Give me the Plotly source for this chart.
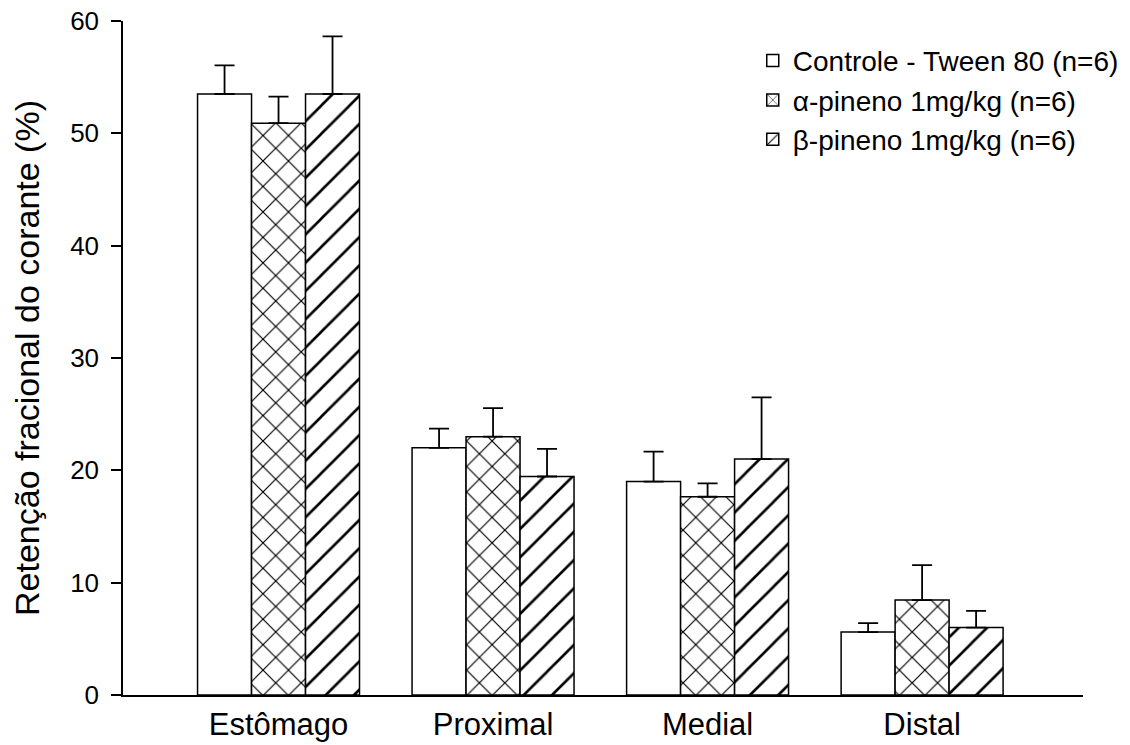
import plotly.graph_objects as go

categories = ["Estômago", "Proximal", "Medial", "Distal"]
series_names = ["Controle - Tween 80 (n=6)", "α-pineno 1mg/kg (n=6)", "β-pineno 1mg/kg (n=6)"]
controle = [53.5, 22.0, 19.0, 5.6]
controle_err = [2.55, 1.72, 2.67, 0.8]
alfa = [50.9, 23.0, 17.65, 8.45]
alfa_err = [2.37, 2.53, 1.19, 3.12]
beta = [53.5, 19.45, 21.0, 6.0]
beta_err = [5.13, 2.46, 5.5, 1.49]
y_ticks = [0, 10, 20, 30, 40, 50, 60]

FONT = "Liberation Sans, Arial, sans-serif"
patterns = ["", "x", "/"]
pattern_sizes = [18, 18, 20]
values = [controle, alfa, beta]
errors = [controle_err, alfa_err, beta_err]

fig = go.Figure()
for name, vals, errs, shp, sz in zip(series_names, values, errors, patterns, pattern_sizes):
    fig.add_trace(go.Bar(
        name=name,
        x=categories,
        y=vals,
        marker=dict(
            color="white",
            line=dict(color="black", width=1.5),
            pattern=dict(shape=shp, fgcolor="black", bgcolor="white",
                         size=sz, solidity=0.13, fillmode="replace"),
        ),
        error_y=dict(type="data", symmetric=False, array=errs,
                     arrayminus=[0] * len(errs), color="black",
                     thickness=1.8, width=10),
    ))

fig.update_layout(
    width=1130, height=745,
    margin=dict(l=123, r=47, t=21, b=50, autoexpand=False),
    paper_bgcolor="white", plot_bgcolor="white",
    barmode="group", bargap=0.245, bargroupgap=0,
    font=dict(family=FONT, color="black"),
    showlegend=True,
    legend=dict(
        x=0.656, y=0.978, xanchor="left", yanchor="top",
        font=dict(size=28, family=FONT, color="black"),
        bgcolor="rgba(0,0,0,0)", borderwidth=0,
        tracegroupgap=0,
    ),
    xaxis=dict(
        type="category",
        range=[-0.725, 3.75],
        automargin=False,
        showline=True, linecolor="black", linewidth=2,
        ticks="", showgrid=False, zeroline=False,
        tickfont=dict(size=31, family=FONT, color="black"),
        ticklabelstandoff=1,
        ticklabeloverflow="allow",
    ),
    yaxis=dict(
        range=[0, 60],
        tickvals=y_ticks,
        automargin=False,
        showline=True, linecolor="black", linewidth=1.5,
        ticks="outside", ticklen=10, tickwidth=1.5, tickcolor="black",
        showgrid=False, zeroline=False,
        tickfont=dict(size=26, family=FONT, color="black"),
        ticklabelstandoff=7,
        ticklabeloverflow="allow",
        title=dict(text="Retenção fracional do corante (%)",
                   font=dict(size=34, family=FONT, color="black"),
                   standoff=20),
    ),
)

fig.write_html("out.html",
               config={"displayModeBar": False},
               post_script="document.body.style.margin='0';document.body.style.overflow='hidden';")
